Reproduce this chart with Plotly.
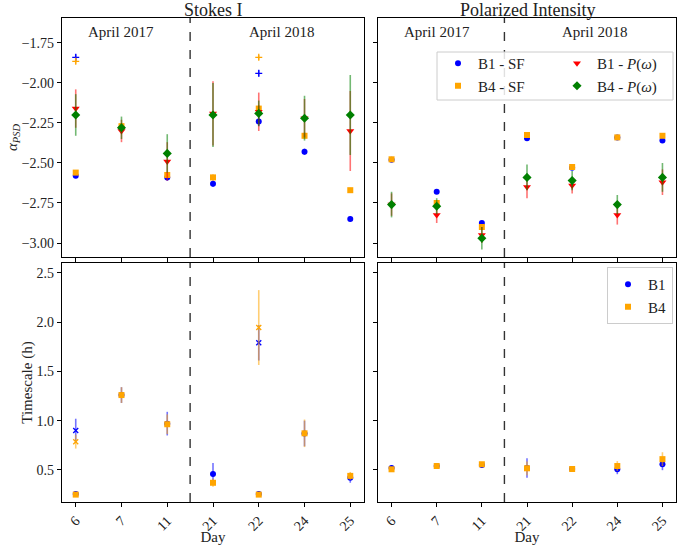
import plotly.graph_objects as go

days = ["6", "7", "11", "21", "22", "24", "25"]
xi = list(range(len(days)))

# Stokes I alpha_PSD
si_b1_sf = [-2.58, -2.28, -2.59, -2.63, -2.24, -2.43, -2.85]
si_b1_sf_err = [0.015, 0.02, 0.02, 0.02, 0.03, 0.02, 0.015]
si_b4_sf = [-2.56, -2.27, -2.575, -2.59, -2.16, -2.33, -2.67]
si_b4_sf_err = [0.015, 0.02, 0.02, 0.02, 0.02, 0.02, 0.015]
si_b1_p = [-2.16, -2.30, -2.49, -2.19, -2.18, -2.22, -2.30]
si_b1_p_err = [0.12, 0.07, 0.12, 0.20, 0.12, 0.12, 0.25]
si_b4_p = [-2.20, -2.28, -2.44, -2.20, -2.19, -2.22, -2.20]
si_b4_p_err = [0.13, 0.07, 0.12, 0.20, 0.08, 0.14, 0.25]
si_b1_sf2 = [-1.84, None, None, None, -1.94, None, None]
si_b4_sf2 = [-1.865, None, None, None, -1.84, None, None]

# Polarized intensity alpha_PSD
pi_b1_sf = [-2.48, -2.68, -2.875, -2.345, -2.53, -2.34, -2.36]
pi_b4_sf = [-2.477, -2.75, -2.90, -2.325, -2.525, -2.34, -2.33]
pi_sf_err = [0.01, 0.01, 0.01, 0.01, 0.01, 0.01, 0.01]
pi_b1_p = [-2.76, -2.825, -2.95, -2.65, -2.64, -2.825, -2.62]
pi_b1_p_err = [0.07, 0.05, 0.05, 0.07, 0.05, 0.06, 0.08]
pi_b4_p = [-2.76, -2.77, -2.97, -2.59, -2.61, -2.76, -2.59]
pi_b4_p_err = [0.08, 0.05, 0.07, 0.08, 0.06, 0.06, 0.09]

# Timescales Stokes I
ts_i_b1 = [0.256, 1.26, 0.97, 0.46, 0.256, 0.87, 0.42]
ts_i_b1_err = [0.02, 0.08, 0.12, 0.11, 0.02, 0.13, 0.05]
ts_i_b4 = [0.25, 1.26, 0.964, 0.37, 0.25, 0.872, 0.44]
ts_i_b4_err = [0.02, 0.08, 0.10, 0.04, 0.02, 0.14, 0.04]
ts_i_b1_2 = [0.90, None, None, None, 1.79, None, None]
ts_i_b1_2_err = [0.12, 0, 0, 0, 0.18, 0, 0]
ts_i_b4_2 = [0.787, None, None, None, 1.945, None, None]
ts_i_b4_2_err = [0.07, 0, 0, 0, 0.38, 0, 0]

# Timescales Polarized
ts_p_b1 = [0.52, 0.54, 0.55, 0.52, 0.51, 0.507, 0.558]
ts_p_b1_err = [0.03, 0.03, 0.02, 0.10, 0.02, 0.05, 0.06]
ts_p_b4 = [0.507, 0.54, 0.558, 0.517, 0.51, 0.54, 0.61]
ts_p_b4_err = [0.02, 0.03, 0.02, 0.07, 0.02, 0.05, 0.07]

BLUE = "#0000ff"
ORANGE = "#ffa500"
RED = "#ff0000"
GREEN = "#008000"


def rgba(h, a):
    h = h.lstrip("#")
    return "rgba(%d,%d,%d,%.2f)" % (int(h[0:2], 16), int(h[2:4], 16), int(h[4:6], 16), a)


def tr(y, err, color, symbol, name, xa, ya, legend=None, show=False, size=6, thin=False):
    marker = dict(color=color, symbol=symbol, size=size)
    if thin:
        marker["line"] = dict(color=color, width=1.3)
    kw = {}
    if legend:
        kw["legend"] = legend
    return go.Scatter(
        x=xi, y=y, mode="markers", name=name, marker=marker,
        error_y=dict(type="data", array=err, color=rgba(color, 0.55), thickness=1.6, width=0),
        xaxis=xa, yaxis=ya, showlegend=show, hoverinfo="skip", **kw,
    )


fig = go.Figure()
# top-left
fig.add_trace(tr(si_b1_sf2, [0.02] * 7, BLUE, "cross-thin", "B1 - SF (2)", "x", "y", size=5, thin=True))
fig.add_trace(tr(si_b4_sf2, [0.015] * 7, ORANGE, "cross-thin", "B4 - SF (2)", "x", "y", size=5, thin=True))
fig.add_trace(tr(si_b1_sf, si_b1_sf_err, BLUE, "circle", "B1 - SF", "x", "y"))
fig.add_trace(tr(si_b4_sf, si_b4_sf_err, ORANGE, "square", "B4 - SF", "x", "y"))
fig.add_trace(tr(si_b1_p, si_b1_p_err, RED, "triangle-down", "B1 - P", "x", "y", size=7))
fig.add_trace(tr(si_b4_p, si_b4_p_err, GREEN, "diamond", "B4 - P", "x", "y", size=7))
# top-right
fig.add_trace(tr(pi_b1_sf, pi_sf_err, BLUE, "circle", "B1 - SF", "x2", "y2", legend="legend", show=True))
fig.add_trace(tr(pi_b4_sf, pi_sf_err, ORANGE, "square", "B4 - SF", "x2", "y2", legend="legend", show=True))
fig.add_trace(tr(pi_b1_p, pi_b1_p_err, RED, "triangle-down", "B1 - <i>P</i>(<i>ω</i>)", "x2", "y2", legend="legend3", show=True, size=7))
fig.add_trace(tr(pi_b4_p, pi_b4_p_err, GREEN, "diamond", "B4 - <i>P</i>(<i>ω</i>)", "x2", "y2", legend="legend3", show=True, size=7))
# bottom-left
fig.add_trace(tr(ts_i_b1, ts_i_b1_err, BLUE, "circle", "B1", "x3", "y3"))
fig.add_trace(tr(ts_i_b4, ts_i_b4_err, ORANGE, "square", "B4", "x3", "y3"))
fig.add_trace(tr(ts_i_b1_2, ts_i_b1_2_err, BLUE, "x-thin", "B1 (2)", "x3", "y3", size=5, thin=True))
fig.add_trace(tr(ts_i_b4_2, ts_i_b4_2_err, ORANGE, "x-thin", "B4 (2)", "x3", "y3", size=5, thin=True))
# bottom-right
fig.add_trace(tr(ts_p_b1, ts_p_b1_err, BLUE, "circle", "B1", "x4", "y4", legend="legend2", show=True))
fig.add_trace(tr(ts_p_b4, ts_p_b4_err, ORANGE, "square", "B4", "x4", "y4", legend="legend2", show=True))

FONT = "Liberation Serif"
L, R, T, B = 62, 2, 18, 43
W, H = 678, 545
PW, PH = W - L - R, H - T - B


def px_x(p):
    return (p - L) / PW


def px_y(p):
    return (H - B - p) / PH


xl = [0, px_x(364)]
xr = [px_x(378), 1]
yt = [px_y(257), 1]
yb = [0, px_y(263)]

axcommon = dict(showline=True, linecolor="black", linewidth=1.2, mirror=True, showgrid=False,
                zeroline=False, ticks="outside", ticklen=4, tickcolor="black",
                tickfont=dict(family=FONT, size=14, color="#222"))

xcommon = dict(axcommon, tickmode="array", tickvals=xi, ticktext=days, range=[-0.3, 6.3])

legfont = dict(family=FONT, size=15, color="#222")
fig.update_layout(
    width=W, height=H,
    margin=dict(l=L, r=R, t=T, b=B, autoexpand=False),
    plot_bgcolor="white", paper_bgcolor="white",
    font=dict(family=FONT, size=14, color="#222"),
    xaxis=dict(xcommon, domain=xl, anchor="y", showticklabels=False),
    xaxis2=dict(xcommon, domain=xr, anchor="y2", showticklabels=False),
    xaxis3=dict(xcommon, domain=xl, anchor="y3", tickangle=-45,
                title=dict(text="Day", font=dict(family=FONT, size=15), standoff=2)),
    xaxis4=dict(xcommon, domain=xr, anchor="y4", tickangle=-45,
                title=dict(text="Day", font=dict(family=FONT, size=15), standoff=2)),
    yaxis=dict(axcommon, domain=yt, anchor="x", range=[-3.0875, -1.594],
               tickvals=[-3.0, -2.75, -2.5, -2.25, -2.0, -1.75],
               ticktext=["−3.00", "−2.75", "−2.50", "−2.25", "−2.00", "−1.75"],
               title=dict(text="<i>α</i><sub><i>PSD</i></sub>", font=dict(family=FONT, size=15), standoff=0)),
    yaxis2=dict(axcommon, domain=yt, anchor="x2", range=[-3.0875, -1.594],
                tickvals=[-3.0, -2.75, -2.5, -2.25, -2.0, -1.75], showticklabels=False),
    yaxis3=dict(axcommon, domain=yb, anchor="x3", range=[0.175, 2.6],
                tickvals=[0.5, 1.0, 1.5, 2.0, 2.5], ticktext=["0.5", "1.0", "1.5", "2.0", "2.5"],
                title=dict(text="Timescale (h)", font=dict(family=FONT, size=15), standoff=0)),
    yaxis4=dict(axcommon, domain=yb, anchor="x4", range=[0.175, 2.6],
                tickvals=[0.5, 1.0, 1.5, 2.0, 2.5], showticklabels=False),
    legend=dict(x=px_x(438), y=px_y(47), xanchor="left", yanchor="top",
                bgcolor="rgba(0,0,0,0)", borderwidth=0, font=legfont, itemwidth=30),
    legend3=dict(x=px_x(557), y=px_y(47), xanchor="left", yanchor="top",
                 bgcolor="rgba(0,0,0,0)", borderwidth=0, font=legfont, itemwidth=30),
    legend2=dict(x=px_x(673), y=px_y(267), xanchor="right", yanchor="top",
                 bordercolor="#cccccc", borderwidth=1, bgcolor="rgba(255,255,255,0.85)",
                 font=legfont, itemwidth=30),
)

shapes = []
for xa, ya in [("x", "y"), ("x2", "y2"), ("x3", "y3"), ("x4", "y4")]:
    shapes.append(dict(type="line", xref=xa, yref=ya + " domain", x0=2.5, x1=2.5, y0=0, y1=1,
                       line=dict(color="#333", width=1.4, dash="dash"), layer="below"))
# frame for the two-column legend
shapes.append(dict(type="rect", xref="paper", yref="paper",
                   x0=px_x(437), x1=px_x(673), y0=px_y(100), y1=px_y(52),
                   line=dict(color="#cccccc", width=1), fillcolor="rgba(255,255,255,0.85)", layer="above"))
fig.update_layout(shapes=shapes)

ann = []
for text, xc in [("Stokes I", sum(xl) / 2), ("Polarized Intensity", sum(xr) / 2)]:
    ann.append(dict(text=text, x=xc, y=1.0, xref="paper", yref="paper", xanchor="center",
                    yanchor="middle", yshift=8, showarrow=False, font=dict(family=FONT, size=18, color="#222")))
for xa, ya in [("x", "y"), ("x2", "y2")]:
    for text, xv in [("April 2017", 1), ("April 2018", 4.5)]:
        ann.append(dict(text=text, x=xv, y=0.985, xref=xa, yref=ya + " domain", xanchor="center",
                        yanchor="top", showarrow=False, font=dict(family=FONT, size=15, color="#222")))
fig.update_layout(annotations=ann)

fig.write_html("out.html", config={"displayModeBar": False},
               post_script="document.body.style.margin='0px';")
